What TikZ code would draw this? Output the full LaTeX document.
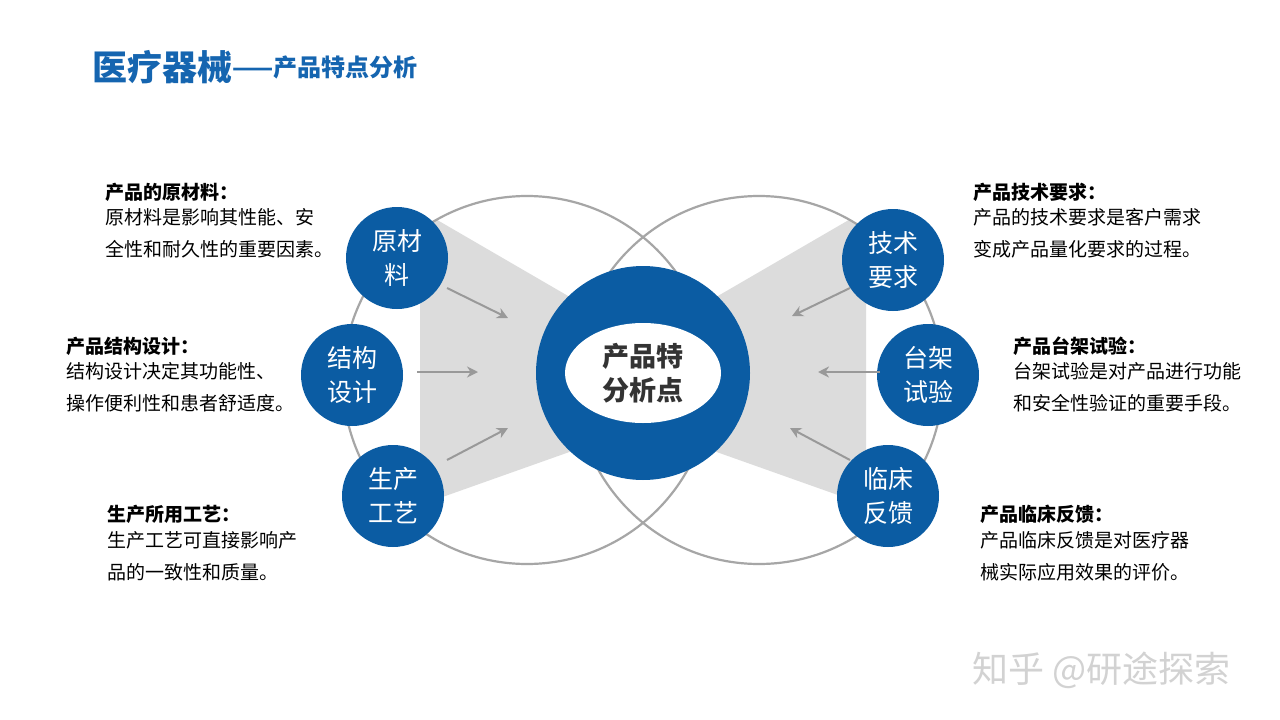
\documentclass[tikz,border=0pt]{standalone}
\usepackage{fontspec}
\setmainfont{Noto Sans CJK SC}
\usetikzlibrary{arrows.meta}
\definecolor{mblue}{HTML}{0B5CA3}
\definecolor{tblue}{HTML}{1565B0}
\definecolor{wedge}{HTML}{DCDCDC}
\begin{document}
\begin{tikzpicture}[x=1pt,y=-1pt,
  big/.style={draw=gray!70,line width=2.2pt},
  small/.style={circle,fill=mblue,minimum size=102pt,inner sep=0pt,text=white,font=\fontsize{25}{34}\selectfont,align=center},
  arr/.style={draw=gray!80,line width=2pt,-{Stealth[length=11pt,width=11pt]}},
  head/.style={anchor=west,font=\bfseries\fontsize{19}{22}\selectfont,inner sep=0pt},
  body/.style={anchor=north west,font=\fontsize{19}{32}\selectfont,align=left,inner sep=0pt}]
\useasboundingbox[fill=white] (0,0) rectangle (1280,720);
\node[anchor=west,text=tblue,font=\bfseries\fontsize{35}{38}\selectfont,inner sep=0pt] (t1) at (92,67) {医疗器械};
\node[anchor=west,text=tblue,font=\bfseries\fontsize{24}{26}\selectfont,inner sep=0pt] (t2) at (t1.east) {——产品特点分析};
% wedges
\begin{scope}
\clip (527,380) circle (184);
\fill[wedge] (420,210) -- (575,300) -- (575,450) -- (420,505) -- cycle;
\end{scope}
\begin{scope}
\clip (759,380) circle (184);
\fill[wedge] (866,210) -- (711,300) -- (711,450) -- (866,505) -- cycle;
\end{scope}
\draw[big] (527,380) circle (184);
\draw[big] (759,380) circle (184);
% center
\fill[mblue] (643,373) circle (107);
\fill[white] (643,373) ellipse (78 and 50);
\node[font=\bfseries\fontsize{27}{34}\selectfont,align=center,text=black!80] (c) at (643,373) {产品特\\分析点};
% small circles
\node[small] (a1) at (397,258) {原材\\料};
\node[small] (a2) at (352,375) {结构\\设计};
\node[small] (a3) at (393,496) {生产\\工艺};
\node[small] (b1) at (893,260) {技术\\要求};
\node[small] (b2) at (928,375) {台架\\试验};
\node[small] (b3) at (888,496) {临床\\反馈};
% arrows
\coordinate (p1) at (508,318); \coordinate (p2) at (478,372); \coordinate (p3) at (508,428);
\coordinate (q1) at (792,316); \coordinate (q2) at (818,372); \coordinate (q3) at (790,428);
\draw[arr] (447,288) -- (p1);
\draw[arr] (417,372) -- (p2);
\draw[arr] (447,460) -- (p3);
\draw[arr] (850,288) -- (q1);
\draw[arr] (880,372) -- (q2);
\draw[arr] (850,460) -- (q3);
% texts
\node[head] (h1) at (105,192) {产品的原材料：};
\node[body] (d1) at (105,208) {原材料是影响其性能、安\\全性和耐久性的重要因素。};
\node[head] (h2) at (66,346) {产品结构设计：};
\node[body] (d2) at (66,362) {结构设计决定其功能性、\\操作便利性和患者舒适度。};
\node[head] (h3) at (107,514) {生产所用工艺：};
\node[body] (d3) at (107,531) {生产工艺可直接影响产\\品的一致性和质量。};
\node[head] (h4) at (973,192) {产品技术要求：};
\node[body] (d4) at (973,208) {产品的技术要求是客户需求\\变成产品量化要求的过程。};
\node[head] (h5) at (1013,346) {产品台架试验：};
\node[body] (d5) at (1013,362) {台架试验是对产品进行功能\\和安全性验证的重要手段。};
\node[head] (h6) at (980,514) {产品临床反馈：};
\node[body] (d6) at (980,531) {产品临床反馈是对医疗器\\械实际应用效果的评价。};
\node[text=gray!35,font=\fontsize{36}{40}\selectfont,anchor=west,inner sep=0pt] (w) at (972,670) {知乎 @研途探索};
\end{tikzpicture}
\end{document}
